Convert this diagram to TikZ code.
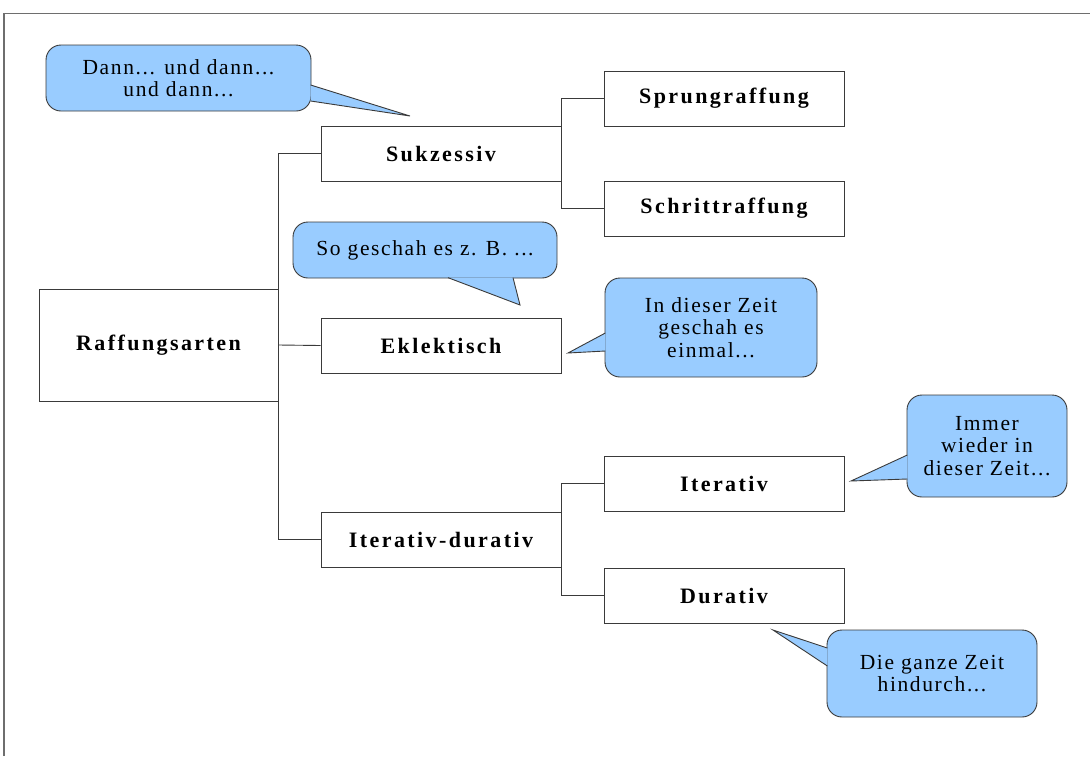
\documentclass[tikz,border=0pt]{standalone}
\usepackage{fontspec}
\usepackage{xcolor}
\usepackage{tikz}
\usetikzlibrary{calc}
\newfontfamily\boxfont[LetterSpace=11]{Liberation Serif}
\newfontfamily\bubblefont[LetterSpace=7.5]{Liberation Serif}
\definecolor{bubblefill}{HTML}{99CCFF}
\definecolor{linegray}{HTML}{3A3A3A}
\definecolor{framegray}{HTML}{6E6E6E}

\begin{document}
\begin{tikzpicture}[x=1pt,y=-1pt,
  box/.style={draw=linegray,line width=0.9pt,fill=white,minimum width=240pt,
    minimum height=55pt,inner sep=0pt,font=\boxfont\bfseries\fontsize{22}{24}\selectfont},
  bubble/.style={draw=linegray,line width=0.9pt,fill=bubblefill,rounded corners=15pt,
    inner sep=0pt,align=center,font=\bubblefont\fontsize{21.5}{22.5}\selectfont},
  pointer/.style={draw=linegray,line width=0.9pt,fill=bubblefill,line join=miter},
  tree/.style={draw=linegray,line width=0.9pt}]
  \useasboundingbox (0,0) rectangle (1090,756);
  \draw[framegray,line width=1.2pt] (4,756) -- (4,13.5) -- (1090,13.5);

  % boxes
  \node[box,minimum width=239pt,minimum height=112pt] (raff) at (158.5,345) {Raffungsarten};
  \node[box] (sukz)    at (441,153.5) {Sukzessiv};
  \node[box] (eklek)   at (441,345.5) {Eklektisch};
  \node[box] (itdur)   at (441,539.5) {Iterativ-durativ};
  \node[box] (sprung)  at (724,98.5)  {Sprungraffung};
  \node[box] (schritt) at (724,208.5) {Schrittraffung};
  \node[box] (iter)    at (724,483.5) {Iterativ};
  \node[box] (durativ) at (724,595.5) {Durativ};

  \draw[tree] (sukz.west) -| (raff.east) |- (itdur.west);
  \draw[tree] (raff.east) -- (eklek.west);
  \draw[tree] (sprung.west) -| (sukz.east) |- (schritt.west);
  \draw[tree] (iter.west) -| (itdur.east) |- (durativ.west);

  % callouts
  \coordinate (danntip) at (410,116);
  \coordinate (sotip)   at (520,305);
  \coordinate (einmaltip) at (568,353);
  \coordinate (immertip)  at (851,481);
  \coordinate (ganztip)   at (773,630);

  \node[bubble,minimum width=265pt,minimum height=66pt] (dann) at (178.5,78)
    {Dann... und dann...\\und dann...};
  \draw[pointer] ([xshift=-0.8pt,yshift=-7pt]dann.east) -- (danntip)
    -- ([xshift=-0.8pt,yshift=-23pt]dann.east);

  \node[bubble,minimum width=264pt,minimum height=56pt] (so) at (425,250)
    {So geschah es z. B. ...};
  \draw[pointer] ([xshift=23pt,yshift=0.8pt]so.south) -- (sotip)
    -- ([xshift=88pt,yshift=0.8pt]so.south);

  \node[bubble,minimum width=212pt,minimum height=99pt] (einmal) at (711,327.5)
    {In dieser Zeit\\geschah es\\einmal...};
  \draw[pointer] ([xshift=0.8pt,yshift=-5.5pt]einmal.west) -- (einmaltip)
    -- ([xshift=0.8pt,yshift=-23.5pt]einmal.west);

  \node[bubble,minimum width=160pt,minimum height=102pt] (immer) at (987,446)
    {Immer\\wieder in\\dieser Zeit...};
  \draw[pointer] ([xshift=0.8pt,yshift=-9pt]immer.west) -- (immertip)
    -- ([xshift=0.8pt,yshift=-33pt]immer.west);

  \node[bubble,minimum width=210pt,minimum height=87pt] (ganz) at (932,673.5)
    {Die ganze Zeit\\hindurch...};
  \draw[pointer] ([xshift=0.8pt,yshift=25.5pt]ganz.west) -- (ganztip)
    -- ([xshift=0.8pt,yshift=7.5pt]ganz.west);
\end{tikzpicture}
\end{document}
